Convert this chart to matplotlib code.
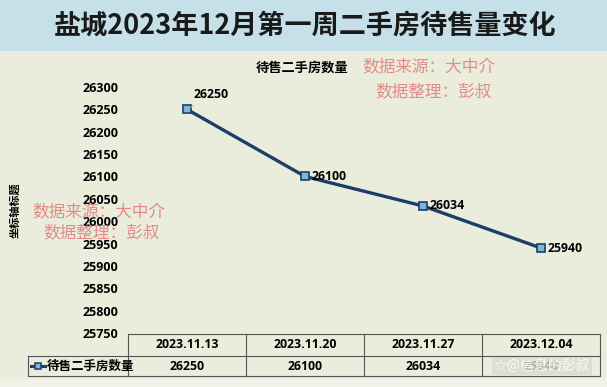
import matplotlib.pyplot as plt
import matplotlib.transforms as mtransforms
from matplotlib.patches import Rectangle
from matplotlib.lines import Line2D

plt.rcParams['font.family'] = ['Open Sans', 'Noto Sans CJK SC', 'DejaVu Sans']

dates = ["2023.11.13", "2023.11.20", "2023.11.27", "2023.12.04"]
stock = [26250, 26100, 26034, 25940]
series_name = "待售二手房数量"
title = "盐城2023年12月第一周二手房待售量变化"
y_ticks = list(range(25750, 26301, 50))

W, H = 607, 387
fig = plt.figure(figsize=(W / 100, H / 100), dpi=100)
fig.patch.set_facecolor("#eaeddc")


def fx(px):
    return px / W


def fy(px):
    return 1 - px / H


# title band
fig.add_artist(Rectangle((0, fy(51)), 1, 1 - fy(51), transform=fig.transFigure,
                         facecolor="#c6e0ea", edgecolor="none", zorder=0))
fig.add_artist(Rectangle((0, 0), 1, fy(379), transform=fig.transFigure,
                         facecolor="#f0f2ea", edgecolor="none", zorder=0))
fig.text(0.503, fy(26), title, ha="center", va="center", fontsize=19.5,
         family=["Noto Sans CJK SC"], weight="bold", color="#1a1a1a")

ax = fig.add_axes([fx(128), fy(333), fx(600) - fx(128), fy(87) - fy(333)])
ax.set_facecolor("none")
x = list(range(len(dates)))
ax.plot(x, stock, color="#1f3d6b", lw=2.4, marker="s", ms=5.5,
        mfc="#7db6d6", mec="#1f3d6b", mew=1.2, zorder=3)
ax.set_xlim(-0.5, len(dates) - 0.5)
ax.set_ylim(y_ticks[0], y_ticks[-1])
ax.set_yticks(y_ticks)
ax.set_yticklabels([str(v) for v in y_ticks], fontsize=9, weight="bold")
ax.tick_params(axis="y", length=0, pad=7)
ax.set_xticks([])
for s in ax.spines.values():
    s.set_visible(False)

# data labels
for i, v in enumerate(stock):
    if i == 0:
        ax.annotate(str(v), (i, v), xytext=(5, 6), textcoords="offset points",
                    fontsize=8.8, weight="bold", ha="left", va="bottom",
                    arrowprops=dict(arrowstyle="-", color="#b0b0b0", lw=0.6))
    else:
        ax.annotate(str(v), (i, v), xytext=(5, 0), textcoords="offset points",
                    fontsize=8.8, weight="bold", ha="left", va="center")

fig.text(fx(302), fy(68), series_name, ha="center", va="center", fontsize=9.5,
         family=["Noto Sans CJK SC"], weight="bold")
fig.text(fx(15), fy(210), "坐标轴标题", rotation=90, ha="center", va="center",
         fontsize=8, family=["Noto Sans CJK SC"], weight="bold")

# data table under the plot
bt = mtransforms.blended_transform_factory(ax.transData, fig.transFigure)
top, mid, bot = fy(334), fy(356), fy(376)
lc = "#555555"
for xb in [k - 0.5 for k in range(len(dates) + 1)]:
    ax.add_line(Line2D([xb, xb], [bot, top], transform=bt, color=lc, lw=0.8, clip_on=False))
ax.add_line(Line2D([-0.5, len(dates) - 0.5], [top, top], transform=bt, color=lc, lw=0.8, clip_on=False))
fig.add_artist(Line2D([fx(28), fx(600)], [mid, mid], color=lc, lw=0.8))
fig.add_artist(Line2D([fx(28), fx(600)], [bot, bot], color=lc, lw=0.8))
fig.add_artist(Line2D([fx(28), fx(28)], [bot, mid], color=lc, lw=0.8))
for i, (d, v) in enumerate(zip(dates, stock)):
    ax.text(i, (top + mid) / 2, d, transform=bt, ha="center", va="center",
            fontsize=8.8, weight="bold", clip_on=False)
    ax.text(i, (mid + bot) / 2, str(v), transform=bt, ha="center", va="center",
            fontsize=8.8, weight="bold", clip_on=False)

# legend key inside the row header
ym = (mid + bot) / 2
fig.add_artist(Line2D([fx(31), fx(45)], [ym, ym], color="#1f3d6b", lw=2.2))
fig.add_artist(Line2D([fx(38)], [ym], marker="s", ms=5, mfc="#7db6d6",
                      mec="#1f3d6b", mew=1.1))
fig.text(fx(47), ym, series_name, ha="left", va="center", fontsize=9,
         family=["Noto Sans CJK SC"], weight="bold")

# watermarks
wm = dict(color="#e06a6a", alpha=0.75, fontsize=12, family=["Noto Sans CJK SC"])
fig.text(fx(362), fy(68), "数据来源：大中介", ha="left", va="center", **wm)
fig.text(fx(375), fy(92), "数据整理：彭叔", ha="left", va="center", **wm)
fig.text(fx(32), fy(213), "数据来源：大中介", ha="left", va="center", **wm)
fig.text(fx(43), fy(233), "数据整理：彭叔", ha="left", va="center", **wm)
fig.text(fx(542), (mid + bot) / 2, "☆@信息的彭叔", ha="center", va="center",
         fontsize=10, color="#ffffff", alpha=0.85, family=["Noto Sans CJK SC", "DejaVu Sans"],
         bbox=dict(boxstyle="square,pad=0.1", fc="#d8dbd0", ec="none", alpha=0.8))

fig.savefig("out.png", dpi=100, facecolor=fig.get_facecolor())
